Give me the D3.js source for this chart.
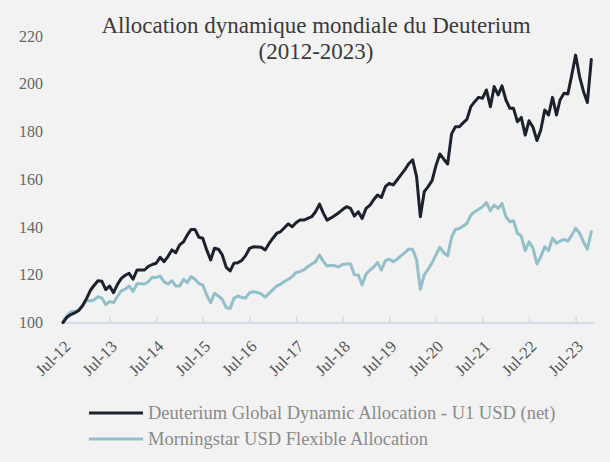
<!DOCTYPE html>
<html>
<head>
<meta charset="utf-8">
<script src="https://cdn.jsdelivr.net/npm/d3@7"></script>
<style>
  html, body { margin: 0; padding: 0; background: #f2f2f2; }
  svg { display: block; }
</style>
</head>
<body>
<svg id="chart" width="610" height="462"></svg>
<script>
// monthly index values, Jul 2012 -> Nov 2023
const deuterium = [
  100, 102.2, 103.3, 104, 105, 107, 110, 113.5, 115.5, 117.5, 117.3, 113.8,
  115.3, 112.5, 116, 118.5, 119.8, 120.6, 118.1, 122, 122, 122, 123.5, 124.3,
  124.8, 127.3, 125.5, 127.6, 130.4, 129.2, 132.5, 133.8, 136.6, 139, 139, 135.7,
  135.3, 130.4, 126.2, 131.1, 130.7, 128.3, 123.1, 121.6, 124.8, 125, 126, 128,
  131, 131.7, 131.6, 131.5, 130.4, 133, 135.3, 137.4, 138, 139.7, 141.3, 140.1,
  141.8, 142.9, 142.9, 143.6, 144.3, 146.4, 149.6, 145.7, 142.9, 143.8, 144.8, 146,
  147.3, 148.5, 147.8, 144.6, 146.4, 143.6, 147.8, 149.2, 151.4, 153.4, 152.4, 156.9,
  158.3, 157.6, 159.7, 161.8, 164, 166.5, 168.1, 161, 144.3, 154.8, 156.9, 159.4,
  165.6, 170.6, 168.4, 166.4, 179, 182, 182, 183.7, 185.1, 190.4, 192.5, 194.3,
  193.9, 197.4, 190.4, 198.8, 195.3, 199.1, 193.2, 189.7, 189.7, 184.1, 185.9, 178.5,
  184.5, 181.8, 176.2, 180.6, 189, 186.9, 194.3, 186.9, 193.2, 196, 195.7, 203.7,
  212, 203, 196.7, 192.1, 210.2
];
const morningstar = [
  100, 102.8, 104.5, 104.7, 105.2, 107, 109.4, 109, 109.5, 110.8, 110.3, 107.5,
  108.8, 108.3, 111, 113.3, 114, 115.3, 113, 116.2, 116.2, 116.1, 117.1, 119,
  118.8, 119.5, 117, 116.1, 117.5, 115.3, 115.3, 118.1, 116.7, 119.2, 118.1, 116.3,
  115.7, 111.5, 108.3, 112.2, 111.1, 109.7, 106.2, 105.9, 110.1, 111.1, 110.5, 110.3,
  112.4, 112.9, 112.6, 112, 110.6, 112.2, 113.8, 115.3, 116, 117.2, 118.1, 119.2,
  120.9, 121.3, 122, 123.4, 124.5, 125.5, 128.3, 125.5, 123.7, 124, 123.8, 123.2,
  124.3, 124.5, 124.5, 120, 119.9, 115.7, 120.3, 122, 123.2, 125.2, 122, 125.9,
  126.5, 125.5, 126.5, 127.9, 129.3, 130.7, 130.7, 126.2, 113.9, 119.9, 122.3, 125,
  128.3, 131.5, 129.2, 127.9, 135.7, 139, 139.4, 140.4, 141.5, 145, 146.4, 147.4,
  148.5, 150.2, 146.8, 149.2, 147.8, 149.9, 144.3, 142.2, 142.6, 137.4, 136.2, 130.1,
  133.8, 131.1, 124.5, 127.6, 131.7, 130.1, 135.3, 133.2, 134.1, 134.8, 134.1, 136.6,
  139.5, 137.4, 133.8, 130.7, 138
];
const seriesNames = [
  'Deuterium Global Dynamic Allocation - U1 USD (net)',
  'Morningstar USD Flexible Allocation'
];
const seriesColors = ['#1b222d', '#92bfc8'];
const yTicks = [100, 120, 140, 160, 180, 200, 220];
const tickYears = [2012, 2013, 2014, 2015, 2016, 2017, 2018, 2019, 2020, 2021, 2022, 2023];

const svg = d3.select('#chart');
const serif = '"Liberation Serif", "Times New Roman", serif';

const dates = deuterium.map((d, i) => new Date(2012, 6 + i, 1));
const x = d3.scaleTime()
  .domain([new Date(2012, 6, 1), new Date(2023, 10, 22)])
  .range([63, 594]);
const y = d3.scaleLinear()
  .domain([100, 220])
  .range([322.5, 36]);

svg.append('rect')
  .attr('width', 610).attr('height', 462)
  .attr('fill', '#f2f2f2');

// title
svg.append('text')
  .attr('x', 316).attr('y', 33)
  .attr('text-anchor', 'middle')
  .attr('font-family', serif)
  .attr('font-size', 23)
  .attr('fill', '#3a3a3a')
  .text('Allocation dynamique mondiale du Deuterium');
svg.append('text')
  .attr('x', 316).attr('y', 59)
  .attr('text-anchor', 'middle')
  .attr('font-family', serif)
  .attr('font-size', 23)
  .attr('fill', '#3a3a3a')
  .text('(2012-2023)');

// y axis labels only
const yAxis = svg.append('g')
  .attr('transform', 'translate(43,0)')
  .call(d3.axisLeft(y).tickValues(yTicks).tickSize(0).tickPadding(0));
yAxis.select('.domain').remove();
yAxis.selectAll('text')
  .attr('font-family', serif)
  .attr('font-size', 16)
  .attr('fill', '#666');

// x axis
const xAxis = svg.append('g')
  .attr('transform', `translate(0,${y(100)})`)
  .call(d3.axisTop(x)
    .tickValues(tickYears.map(yr => new Date(yr, 6, 1)))
    .tickFormat(d3.timeFormat('%b-%y'))
    .tickSize(6)
    .tickSizeOuter(0));
xAxis.select('.domain').attr('stroke', '#d3dbe9').attr('stroke-width', 2);
xAxis.selectAll('.tick line').attr('stroke', '#d3dbe9').attr('stroke-width', 1.5);
xAxis.selectAll('.tick text')
  .attr('font-family', serif)
  .attr('font-size', 16.5)
  .attr('fill', '#555')
  .attr('text-anchor', 'end')
  .attr('transform', 'translate(8,25) rotate(-45)')
  .attr('y', 0)
  .attr('dy', 0);

// lines
const line = d3.line()
  .x((d, i) => x(dates[i]))
  .y(d => y(d));

[morningstar, deuterium].forEach((s, k) => {
  svg.append('path')
    .datum(s)
    .attr('fill', 'none')
    .attr('stroke', seriesColors[1 - k])
    .attr('stroke-width', 3)
    .attr('stroke-linejoin', 'round')
    .attr('stroke-linecap', 'round')
    .attr('d', line);
});

// legend
const legend = svg.append('g');
seriesNames.forEach((name, i) => {
  const ly = 413 + i * 26;
  legend.append('line')
    .attr('x1', 89).attr('x2', 143)
    .attr('y1', ly).attr('y2', ly)
    .attr('stroke', seriesColors[i])
    .attr('stroke-width', 3);
  legend.append('text')
    .attr('x', 148).attr('y', ly + 5.5)
    .attr('font-family', serif)
    .attr('font-size', 18.5)
    .attr('fill', '#8a8a8a')
    .text(name);
});
</script>
</body>
</html>
